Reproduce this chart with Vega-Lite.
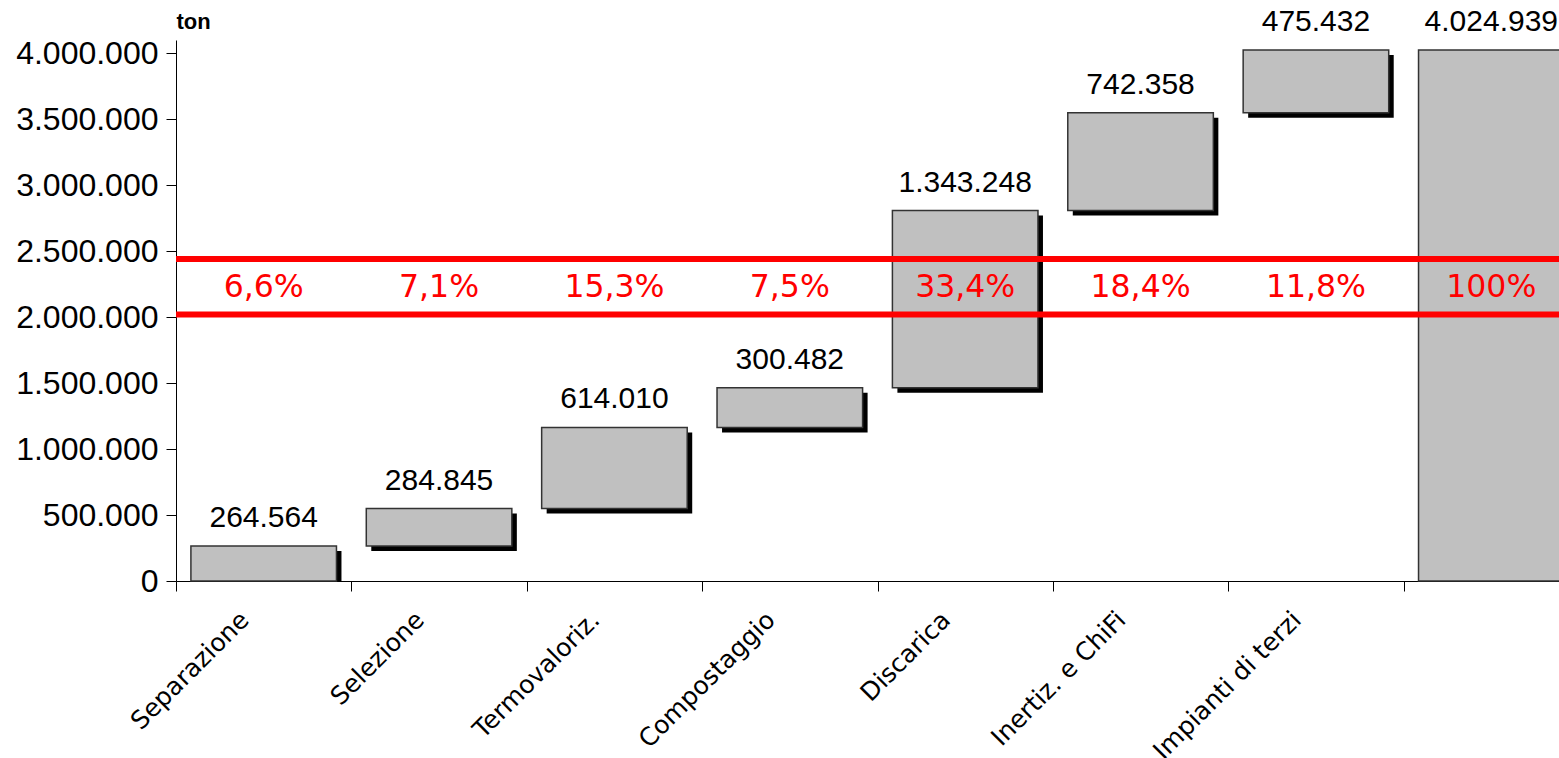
{
  "$schema": "https://vega.github.io/schema/vega-lite/v6.json",
  "width": 1383,
  "height": 541,
  "autosize": {"type": "none"},
  "padding": {"left": 176, "top": 40, "right": 0, "bottom": 177},
  "background": "white",
  "config": {
    "locale": {"number": {"decimal": ",", "thousands": ".", "grouping": [3], "currency": ["", " €"]}},
    "view": {"stroke": null},
    "font": "Liberation Sans"
  },
  "datasets": {
    "steps": [
      {"cat": "Separazione", "start": 0, "end": 264564, "value": 264564, "pct": "6,6%"},
      {"cat": "Selezione", "start": 264564, "end": 549409, "value": 284845, "pct": "7,1%"},
      {"cat": "Termovaloriz.", "start": 549409, "end": 1163419, "value": 614010, "pct": "15,3%"},
      {"cat": "Compostaggio", "start": 1163419, "end": 1463901, "value": 300482, "pct": "7,5%"},
      {"cat": "Discarica", "start": 1463901, "end": 2807149, "value": 1343248, "pct": "33,4%"},
      {"cat": "Inertiz. e ChiFi", "start": 2807149, "end": 3549507, "value": 742358, "pct": "18,4%"},
      {"cat": "Impianti di terzi", "start": 3549507, "end": 4024939, "value": 475432, "pct": "11,8%"},
      {"cat": "Totale", "start": 0, "end": 4024939, "value": 4024939, "pct": "100%"}
    ],
    "lines": [{"v": 2020000}, {"v": 2440000}]
  },
  "data": {"name": "steps"},
  "layer": [
    {
      "mark": {"type": "bar", "color": "black", "width": {"band": 0.83}, "xOffset": 5, "x2Offset": 5, "yOffset": 5, "y2Offset": 5, "clip": true},
      "encoding": {
        "x": {
          "field": "cat", "type": "nominal", "sort": null,
          "scale": {"range": [0, 1403], "paddingInner": 0, "paddingOuter": 0},
          "axis": {
            "title": null,
            "labelExpr": "datum.label == 'Totale' ? '' : datum.label",
            "labelAngle": -45, "labelAlign": "right", "labelBaseline": "top",
            "labelFont": "DejaVu Sans", "labelFontSize": 25, "labelColor": "black",
            "labelPadding": 16, "labelOffset": -28, "labelLimit": 0,
            "tickBand": "extent", "tickSize": 10, "tickColor": "black",
            "domainColor": "black", "grid": false
          }
        },
        "y": {
          "field": "start", "type": "quantitative",
          "scale": {"domain": [0, 4100000], "nice": false},
          "axis": {
            "values": [0, 500000, 1000000, 1500000, 2000000, 2500000, 3000000, 3500000, 4000000],
            "format": ",d",
            "labelFont": "Liberation Sans", "labelFontSize": 32, "labelColor": "black",
            "labelPadding": 8,
            "tickSize": 10, "tickColor": "black", "domainColor": "black", "grid": false,
            "title": "ton", "titleAngle": 0, "titleAlign": "left", "titleBaseline": "alphabetic",
            "titleX": 0, "titleY": -12, "titleFontSize": 22, "titleFontWeight": "bold",
            "titleFont": "Liberation Sans", "titleColor": "black"
          }
        },
        "y2": {"field": "end"}
      }
    },
    {
      "mark": {"type": "bar", "fill": "#c0c0c0", "stroke": "#333333", "strokeWidth": 1.5, "width": {"band": 0.83}},
      "encoding": {
        "x": {"field": "cat", "type": "nominal", "sort": null},
        "y": {"field": "start", "type": "quantitative"},
        "y2": {"field": "end"}
      }
    },
    {
      "mark": {"type": "text", "baseline": "bottom", "dy": -13, "font": "Liberation Sans", "fontSize": 30, "color": "black"},
      "encoding": {
        "x": {"field": "cat", "type": "nominal", "sort": null},
        "y": {"field": "end", "type": "quantitative"},
        "text": {"field": "value", "type": "quantitative", "format": ",d"}
      }
    },
    {
      "data": {"name": "lines"},
      "mark": {"type": "rule", "color": "#ff0000", "strokeWidth": 6},
      "encoding": {
        "y": {"field": "v", "type": "quantitative"}
      }
    },
    {
      "mark": {"type": "text", "baseline": "middle", "font": "DejaVu Sans", "fontSize": 31.5, "color": "#ff0000"},
      "encoding": {
        "x": {"field": "cat", "type": "nominal", "sort": null},
        "y": {"datum": 2222000},
        "text": {"field": "pct", "type": "nominal"}
      }
    }
  ]
}
